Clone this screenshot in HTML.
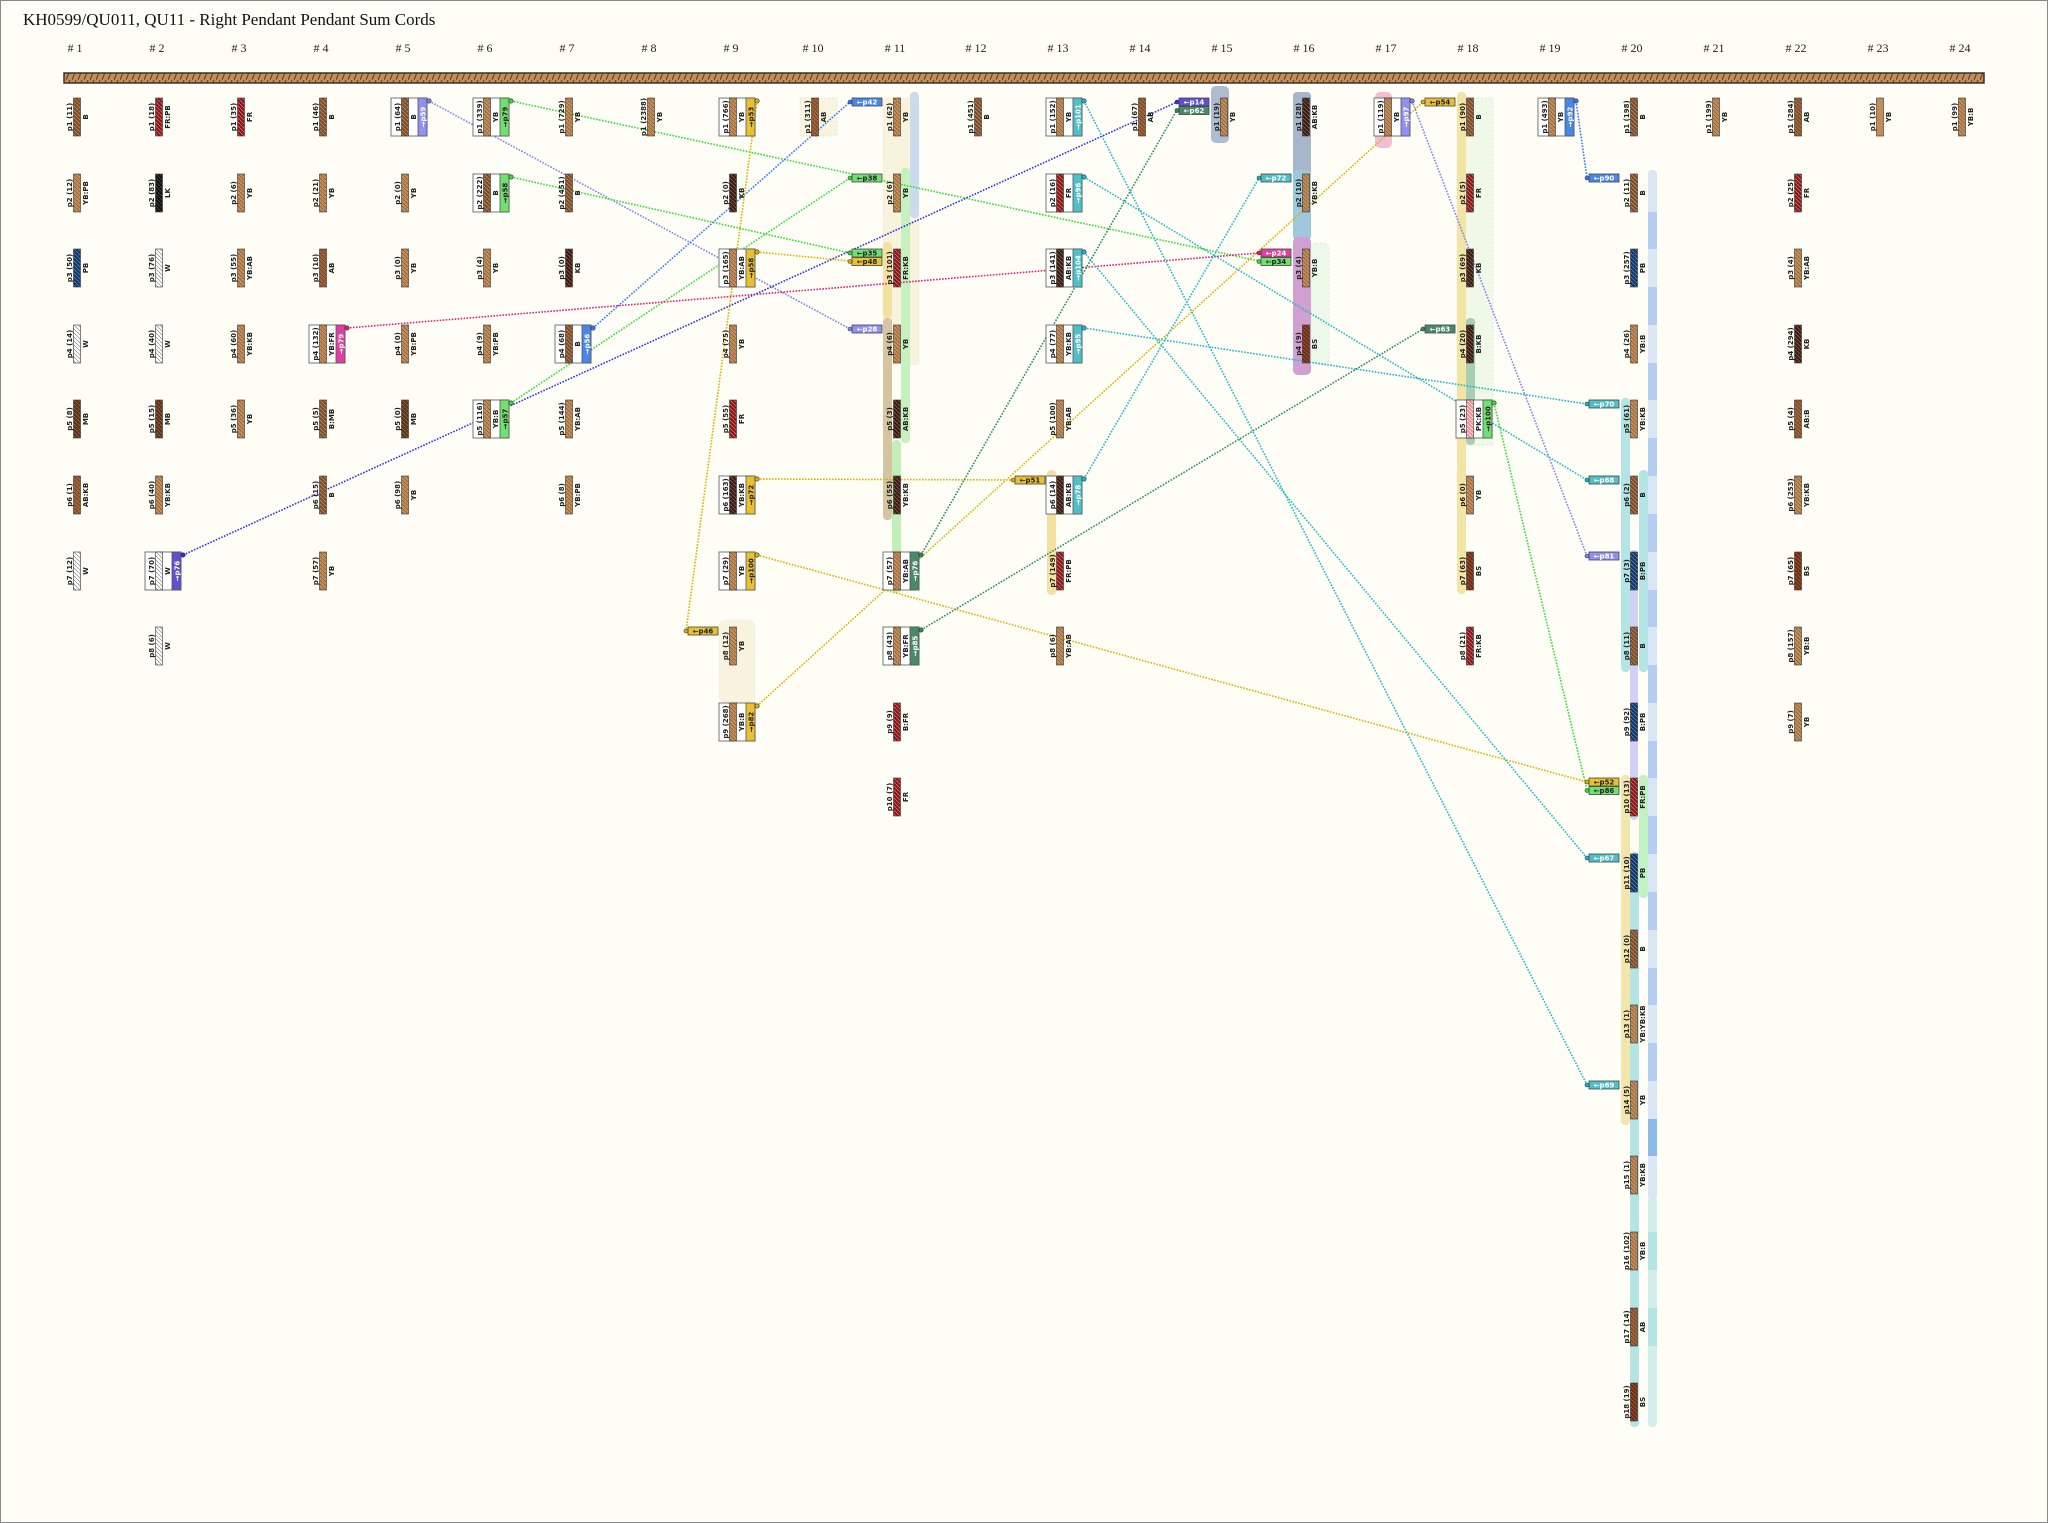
<!DOCTYPE html>
<html><head><meta charset="utf-8"><style>
html,body{margin:0;padding:0;background:#fefef6}
svg{display:block}
.a{font:bold 7px "DejaVu Sans",sans-serif;text-anchor:middle;fill:#222}
.s{font:bold 7px "DejaVu Sans",sans-serif;text-anchor:middle;fill:#fff}
.sk{font:bold 7px "DejaVu Sans",sans-serif;text-anchor:middle;fill:#222}
.t{font:bold 7px "DejaVu Sans",sans-serif;text-anchor:middle;fill:#fff}
.tk{font:bold 7px "DejaVu Sans",sans-serif;text-anchor:middle;fill:#222}
.h{font:12px "Liberation Serif",serif;text-anchor:middle;fill:#222}
.ln{fill:none;stroke-width:1.6;stroke-dasharray:1.6 1.4}
.tg{stroke:#444;stroke-width:.8}
</style></head><body>
<svg width="2048" height="1523" viewBox="0 0 2048 1523" xmlns="http://www.w3.org/2000/svg">
<defs>
<rect id="cr" x="-19" y="-3.5" width="38" height="7" stroke="#333" stroke-width=".6"/>
<pattern id="B" width="4" height="4" patternUnits="userSpaceOnUse"><rect width="4" height="4" fill="#7b4a26"/><path d="M-1,1l2,-2M0,4l4,-4M3,5l2,-2" stroke="#b88a66" stroke-width=".8"/></pattern>
<pattern id="YB" width="4" height="4" patternUnits="userSpaceOnUse"><rect width="4" height="4" fill="#c38d58"/><path d="M-1,1l2,-2M0,4l4,-4M3,5l2,-2" stroke="#7a5030" stroke-width=".6"/></pattern>
<pattern id="FR" width="4" height="4" patternUnits="userSpaceOnUse"><rect width="4" height="4" fill="#8a1414"/><path d="M-1,1l2,-2M0,4l4,-4M3,5l2,-2" stroke="#d08080" stroke-width=".7"/></pattern>
<pattern id="KB" width="4" height="4" patternUnits="userSpaceOnUse"><rect width="4" height="4" fill="#3a1a10"/><path d="M-1,1l2,-2M0,4l4,-4M3,5l2,-2" stroke="#8a6a5a" stroke-width=".7"/></pattern>
<pattern id="AB" width="4" height="4" patternUnits="userSpaceOnUse"><rect width="4" height="4" fill="#a0643a"/><path d="M-1,1l2,-2M0,4l4,-4M3,5l2,-2" stroke="#5a3018" stroke-width=".6"/></pattern>
<pattern id="PB" width="4" height="4" patternUnits="userSpaceOnUse"><rect width="4" height="4" fill="#0f3566"/><path d="M-1,1l2,-2M0,4l4,-4M3,5l2,-2" stroke="#6a8ab8" stroke-width=".7"/></pattern>
<pattern id="W" width="4" height="4" patternUnits="userSpaceOnUse"><rect width="4" height="4" fill="#fff"/><path d="M-1,1l2,-2M0,4l4,-4M3,5l2,-2" stroke="#777" stroke-width=".6"/></pattern>
<pattern id="LK" width="4" height="4" patternUnits="userSpaceOnUse"><rect width="4" height="4" fill="#111"/><path d="M-1,1l2,-2M0,4l4,-4M3,5l2,-2" stroke="#555" stroke-width=".6"/></pattern>
<pattern id="MB" width="4" height="4" patternUnits="userSpaceOnUse"><rect width="4" height="4" fill="#5a3018"/><path d="M-1,1l2,-2M0,4l4,-4M3,5l2,-2" stroke="#9a7050" stroke-width=".7"/></pattern>
<pattern id="BS" width="4" height="4" patternUnits="userSpaceOnUse"><rect width="4" height="4" fill="#6e2c12"/><path d="M-1,1l2,-2M0,4l4,-4M3,5l2,-2" stroke="#a86040" stroke-width=".7"/></pattern>
<pattern id="PK" width="4" height="4" patternUnits="userSpaceOnUse"><rect width="4" height="4" fill="#f09090"/><path d="M-1,1l2,-2M0,4l4,-4M3,5l2,-2" stroke="#fff" stroke-width=".7"/></pattern>
<pattern id="MAIN" width="6" height="10" patternUnits="userSpaceOnUse"><rect width="6" height="10" fill="#c38d58"/><path d="M0,10L4,0" stroke="#5a3a20" stroke-width="1"/></pattern>
</defs>
<rect x="0.5" y="0.5" width="2047" height="1522" fill="#fefef6" stroke="#888"/>
<text x="23" y="25" style="font:17px 'Liberation Serif',serif;fill:#111">KH0599/QU011, QU11 - Right Pendant Pendant Sum Cords</text>
<g class="h">
<text x="75" y="52"># 1</text><text x="157" y="52"># 2</text><text x="239" y="52"># 3</text><text x="321" y="52"># 4</text><text x="403" y="52"># 5</text><text x="485" y="52"># 6</text><text x="567" y="52"># 7</text><text x="649" y="52"># 8</text><text x="731" y="52"># 9</text><text x="813" y="52"># 10</text><text x="895" y="52"># 11</text><text x="976" y="52"># 12</text><text x="1058" y="52"># 13</text><text x="1140" y="52"># 14</text><text x="1222" y="52"># 15</text><text x="1304" y="52"># 16</text><text x="1386" y="52"># 17</text><text x="1468" y="52"># 18</text><text x="1550" y="52"># 19</text><text x="1632" y="52"># 20</text><text x="1714" y="52"># 21</text><text x="1796" y="52"># 22</text><text x="1878" y="52"># 23</text><text x="1960" y="52"># 24</text>
</g>
<rect x="64" y="73" width="1920" height="10" fill="url(#MAIN)" stroke="#333" stroke-width="1.5"/>

<!-- bands -->
<g opacity=".85">
<rect x="800" y="98" width="37" height="38" fill="#f8f3dc" stroke="#ccc" stroke-dasharray="2 2" stroke-width=".5"/>
<rect x="883" y="98" width="36" height="267" rx="4" fill="#f8f2d8" stroke="#ddd" stroke-dasharray="2 2" stroke-width=".5"/>
<rect x="910" y="92" width="9" height="126" rx="4" fill="#c4d4ec"/>
<rect x="901" y="168" width="9" height="275" rx="4" fill="#bdeeb5"/>
<rect x="883" y="242" width="9" height="76" rx="4" fill="#f0dc90"/>
<rect x="883" y="318" width="9" height="202" rx="4" fill="#cdbb90"/>
<rect x="892" y="440" width="9" height="153" rx="4" fill="#b8ecb0"/>
<rect x="719" y="620" width="36" height="82" rx="6" fill="#f8f2dc" stroke="#ddd" stroke-dasharray="2 2" stroke-width=".5"/>
<rect x="1047" y="470" width="9" height="125" rx="4" fill="#f0dc90"/>
<rect x="1211" y="86" width="18" height="57" rx="5" fill="#9fb0c8"/>
<rect x="1293" y="92" width="18" height="140" rx="4" fill="#98aac4"/>
<rect x="1293" y="170" width="18" height="70" rx="4" fill="#8ec0d8"/>
<rect x="1293" y="237" width="18" height="138" rx="5" fill="#c890cc"/>
<rect x="1311" y="243" width="18" height="122" rx="5" fill="#eaf8e6" stroke="#ccc" stroke-dasharray="2 2" stroke-width=".5"/>
<rect x="1375" y="92" width="17" height="56" rx="5" fill="#f0b4d0"/>
<rect x="1457" y="98" width="36" height="347" fill="#eef8e6" stroke="#ccc" stroke-dasharray="2 2" stroke-width=".5"/>
<rect x="1457" y="92" width="9" height="502" rx="4" fill="#f0e098"/>
<rect x="1466" y="318" width="9" height="127" rx="4" fill="#98c8a8"/>
<rect x="1648" y="170" width="9" height="1030" rx="4" fill="#d6e2f5"/>
<rect x="1648" y="1197" width="9" height="230" rx="4" fill="#ccece8"/>
<rect x="1648" y="212" width="9" height="37" fill="#a9c5f0"/><rect x="1648" y="287" width="9" height="38" fill="#a9c5f0"/><rect x="1648" y="363" width="9" height="37" fill="#a9c5f0"/><rect x="1648" y="438" width="9" height="38" fill="#a9c5f0"/><rect x="1648" y="514" width="9" height="38" fill="#a9c5f0"/><rect x="1648" y="590" width="9" height="37" fill="#a9c5f0"/><rect x="1648" y="665" width="9" height="38" fill="#a9c5f0"/><rect x="1648" y="741" width="9" height="37" fill="#a9c5f0"/><rect x="1648" y="816" width="9" height="38" fill="#a9c5f0"/><rect x="1648" y="892" width="9" height="38" fill="#a9c5f0"/><rect x="1648" y="968" width="9" height="37" fill="#a9c5f0"/><rect x="1648" y="1043" width="9" height="38" fill="#a9c5f0"/><rect x="1648" y="1119" width="9" height="37" fill="#7aaee6"/>
<rect x="1648" y="1232" width="9" height="38" fill="#a8e0e0"/><rect x="1648" y="1308" width="9" height="38" fill="#a8e0e0"/>
<rect x="1621" y="398" width="9" height="274" rx="4" fill="#a8e0e0"/>
<rect x="1621" y="775" width="9" height="350" rx="4" fill="#f2e2a0"/>
<rect x="1630" y="550" width="8" height="270" rx="4" fill="#ccc8f5"/>
<rect x="1630" y="852" width="9" height="575" rx="4" fill="#a8e0e0"/>
<rect x="1639" y="470" width="9" height="202" rx="4" fill="#a8e0e0"/>
<rect x="1639" y="775" width="9" height="123" rx="4" fill="#b8f0b8"/>
</g>

<!-- lines -->
<g class="ln">
<path d="M429,101L850,329" stroke="#8080f0"/>
<path d="M511,101L1259,261" stroke="#33dd33"/>
<path d="M511,177L850,253" stroke="#33dd33"/>
<path d="M511,403L850,178" stroke="#33dd33"/>
<path d="M347,328L1259,253" stroke="#e0207a"/>
<path d="M593,328L850,102" stroke="#3377ff"/>
<path d="M183,555L1177,102" stroke="#3030e0"/>
<path d="M757,101L686,631" stroke="#e0b000"/>
<path d="M757,252L850,261" stroke="#e0b000"/>
<path d="M757,479L1013,480" stroke="#e0b000"/>
<path d="M757,555L1587,782" stroke="#e0b000"/>
<path d="M757,706L1423,102" stroke="#e0b000"/>
<path d="M921,555L1177,110" stroke="#2a8a60"/>
<path d="M921,630L1423,329" stroke="#2a8a60"/>
<path d="M1084,101L1587,1085" stroke="#20b8c8"/>
<path d="M1084,177L1587,480" stroke="#20b8c8"/>
<path d="M1084,252L1587,858" stroke="#20b8c8"/>
<path d="M1084,328L1587,404" stroke="#20b8c8"/>
<path d="M1084,479L1259,178" stroke="#20b8c8"/>
<path d="M1576,101L1587,178" stroke="#3377ff"/>
<path d="M1412,101L1587,556" stroke="#8080f0"/>
<path d="M1494,403L1587,790" stroke="#33dd33"/>
</g>

<!-- boxes (drawn under cords) -->
<g stroke="#555" stroke-width=".8">
<g transform="translate(159,571) rotate(-90)"><rect x="-19" y="-14" width="38" height="36" fill="#fff"/><rect x="-19" y="13" width="38" height="9" fill="#6050d0"/></g>
<g transform="translate(323,344) rotate(-90)"><rect x="-19" y="-14" width="38" height="36" fill="#fff"/><rect x="-19" y="13" width="38" height="9" fill="#e040a0"/></g>
<g transform="translate(405,117) rotate(-90)"><rect x="-19" y="-14" width="38" height="36" fill="#fff"/><rect x="-19" y="13" width="38" height="9" fill="#9090f0"/></g>
<g transform="translate(487,117) rotate(-90)"><rect x="-19" y="-14" width="38" height="36" fill="#fff"/><rect x="-19" y="13" width="38" height="9" fill="#70e070"/></g>
<g transform="translate(487,193) rotate(-90)"><rect x="-19" y="-14" width="38" height="36" fill="#fff"/><rect x="-19" y="13" width="38" height="9" fill="#70e070"/></g>
<g transform="translate(487,419) rotate(-90)"><rect x="-19" y="-14" width="38" height="36" fill="#fff"/><rect x="-19" y="13" width="38" height="9" fill="#70e070"/></g>
<g transform="translate(569,344) rotate(-90)"><rect x="-19" y="-14" width="38" height="36" fill="#fff"/><rect x="-19" y="13" width="38" height="9" fill="#4a86e8"/></g>
<g transform="translate(733,117) rotate(-90)"><rect x="-19" y="-14" width="38" height="36" fill="#fff"/><rect x="-19" y="13" width="38" height="9" fill="#e8c030"/></g>
<g transform="translate(733,268) rotate(-90)"><rect x="-19" y="-14" width="38" height="36" fill="#fff"/><rect x="-19" y="13" width="38" height="9" fill="#e8c030"/></g>
<g transform="translate(733,495) rotate(-90)"><rect x="-19" y="-14" width="38" height="36" fill="#fff"/><rect x="-19" y="13" width="38" height="9" fill="#e8c030"/></g>
<g transform="translate(733,571) rotate(-90)"><rect x="-19" y="-14" width="38" height="36" fill="#fff"/><rect x="-19" y="13" width="38" height="9" fill="#e8c030"/></g>
<g transform="translate(733,722) rotate(-90)"><rect x="-19" y="-14" width="38" height="36" fill="#fff"/><rect x="-19" y="13" width="38" height="9" fill="#e8c030"/></g>
<g transform="translate(897,571) rotate(-90)"><rect x="-19" y="-14" width="38" height="36" fill="#fff"/><rect x="-19" y="13" width="38" height="9" fill="#4a8a6a"/></g>
<g transform="translate(897,646) rotate(-90)"><rect x="-19" y="-14" width="38" height="36" fill="#fff"/><rect x="-19" y="13" width="38" height="9" fill="#4a8a6a"/></g>
<g transform="translate(1060,117) rotate(-90)"><rect x="-19" y="-14" width="38" height="36" fill="#fff"/><rect x="-19" y="13" width="38" height="9" fill="#50c0c8"/></g>
<g transform="translate(1060,193) rotate(-90)"><rect x="-19" y="-14" width="38" height="36" fill="#fff"/><rect x="-19" y="13" width="38" height="9" fill="#50c0c8"/></g>
<g transform="translate(1060,268) rotate(-90)"><rect x="-19" y="-14" width="38" height="36" fill="#fff"/><rect x="-19" y="13" width="38" height="9" fill="#50c0c8"/></g>
<g transform="translate(1060,344) rotate(-90)"><rect x="-19" y="-14" width="38" height="36" fill="#fff"/><rect x="-19" y="13" width="38" height="9" fill="#50c0c8"/></g>
<g transform="translate(1060,495) rotate(-90)"><rect x="-19" y="-14" width="38" height="36" fill="#fff"/><rect x="-19" y="13" width="38" height="9" fill="#50c0c8"/></g>
<g transform="translate(1388,117) rotate(-90)"><rect x="-19" y="-14" width="38" height="36" fill="#fff"/><rect x="-19" y="13" width="38" height="9" fill="#9090f0"/></g>
<g transform="translate(1470,419) rotate(-90)"><rect x="-19" y="-14" width="38" height="36" fill="#fff"/><rect x="-19" y="13" width="38" height="9" fill="#70e070"/></g>
<g transform="translate(1552,117) rotate(-90)"><rect x="-19" y="-14" width="38" height="36" fill="#fff"/><rect x="-19" y="13" width="38" height="9" fill="#4a86e8"/></g>
</g>
<g>
<g transform="translate(159,571) rotate(-90)"><text class="s" y="20.5">→p76</text></g>
<g transform="translate(323,344) rotate(-90)"><text class="s" y="20.5">→p79</text></g>
<g transform="translate(405,117) rotate(-90)"><text class="s" y="20.5">→p59</text></g>
<g transform="translate(487,117) rotate(-90)"><text class="sk" y="20.5">→p79</text></g>
<g transform="translate(487,193) rotate(-90)"><text class="sk" y="20.5">→p58</text></g>
<g transform="translate(487,419) rotate(-90)"><text class="sk" y="20.5">→p57</text></g>
<g transform="translate(569,344) rotate(-90)"><text class="s" y="20.5">→p56</text></g>
<g transform="translate(733,117) rotate(-90)"><text class="sk" y="20.5">→p53</text></g>
<g transform="translate(733,268) rotate(-90)"><text class="sk" y="20.5">→p58</text></g>
<g transform="translate(733,495) rotate(-90)"><text class="sk" y="20.5">→p72</text></g>
<g transform="translate(733,571) rotate(-90)"><text class="sk" y="20.5">→p100</text></g>
<g transform="translate(733,722) rotate(-90)"><text class="sk" y="20.5">→p82</text></g>
<g transform="translate(897,571) rotate(-90)"><text class="s" y="20.5">→p76</text></g>
<g transform="translate(897,646) rotate(-90)"><text class="s" y="20.5">→p85</text></g>
<g transform="translate(1060,117) rotate(-90)"><text class="s" y="20.5">→p101</text></g>
<g transform="translate(1060,193) rotate(-90)"><text class="s" y="20.5">→p96</text></g>
<g transform="translate(1060,268) rotate(-90)"><text class="s" y="20.5">→p104</text></g>
<g transform="translate(1060,344) rotate(-90)"><text class="s" y="20.5">→p95</text></g>
<g transform="translate(1060,495) rotate(-90)"><text class="s" y="20.5">→p78</text></g>
<g transform="translate(1388,117) rotate(-90)"><text class="s" y="20.5">→p97</text></g>
<g transform="translate(1470,419) rotate(-90)"><text class="sk" y="20.5">→p100</text></g>
<g transform="translate(1552,117) rotate(-90)"><text class="s" y="20.5">→p92</text></g>
</g>

<!-- cords -->
<g>
<!-- col1 -->
<g transform="translate(77,117) rotate(-90)"><use href="#cr" fill="url(#B)"/><text class="a" y="-5">p1 (11)</text><text class="a" y="11">B</text></g>
<g transform="translate(77,193) rotate(-90)"><use href="#cr" fill="url(#YB)"/><text class="a" y="-5">p2 (12)</text><text class="a" y="11">YB:PB</text></g>
<g transform="translate(77,268) rotate(-90)"><use href="#cr" fill="url(#PB)"/><text class="a" y="-5">p3 (50)</text><text class="a" y="11">PB</text></g>
<g transform="translate(77,344) rotate(-90)"><use href="#cr" fill="url(#W)"/><text class="a" y="-5">p4 (14)</text><text class="a" y="11">W</text></g>
<g transform="translate(77,419) rotate(-90)"><use href="#cr" fill="url(#MB)"/><text class="a" y="-5">p5 (8)</text><text class="a" y="11">MB</text></g>
<g transform="translate(77,495) rotate(-90)"><use href="#cr" fill="url(#AB)"/><text class="a" y="-5">p6 (1)</text><text class="a" y="11">AB:KB</text></g>
<g transform="translate(77,571) rotate(-90)"><use href="#cr" fill="url(#W)"/><text class="a" y="-5">p7 (12)</text><text class="a" y="11">W</text></g>
<!-- col2 -->
<g transform="translate(159,117) rotate(-90)"><use href="#cr" fill="url(#FR)"/><text class="a" y="-5">p1 (18)</text><text class="a" y="11">FR:PB</text></g>
<g transform="translate(159,193) rotate(-90)"><use href="#cr" fill="url(#LK)"/><text class="a" y="-5">p2 (83)</text><text class="a" y="11">LK</text></g>
<g transform="translate(159,268) rotate(-90)"><use href="#cr" fill="url(#W)"/><text class="a" y="-5">p3 (76)</text><text class="a" y="11">W</text></g>
<g transform="translate(159,344) rotate(-90)"><use href="#cr" fill="url(#W)"/><text class="a" y="-5">p4 (40)</text><text class="a" y="11">W</text></g>
<g transform="translate(159,419) rotate(-90)"><use href="#cr" fill="url(#MB)"/><text class="a" y="-5">p5 (15)</text><text class="a" y="11">MB</text></g>
<g transform="translate(159,495) rotate(-90)"><use href="#cr" fill="url(#YB)"/><text class="a" y="-5">p6 (40)</text><text class="a" y="11">YB:KB</text></g>
<g transform="translate(159,571) rotate(-90)"><use href="#cr" fill="url(#W)"/><text class="a" y="-5">p7 (70)</text><text class="a" y="11">W</text></g>
<g transform="translate(159,646) rotate(-90)"><use href="#cr" fill="url(#W)"/><text class="a" y="-5">p8 (6)</text><text class="a" y="11">W</text></g>
<!-- col3 -->
<g transform="translate(241,117) rotate(-90)"><use href="#cr" fill="url(#FR)"/><text class="a" y="-5">p1 (35)</text><text class="a" y="11">FR</text></g>
<g transform="translate(241,193) rotate(-90)"><use href="#cr" fill="url(#YB)"/><text class="a" y="-5">p2 (6)</text><text class="a" y="11">YB</text></g>
<g transform="translate(241,268) rotate(-90)"><use href="#cr" fill="url(#YB)"/><text class="a" y="-5">p3 (55)</text><text class="a" y="11">YB:AB</text></g>
<g transform="translate(241,344) rotate(-90)"><use href="#cr" fill="url(#YB)"/><text class="a" y="-5">p4 (60)</text><text class="a" y="11">YB:KB</text></g>
<g transform="translate(241,419) rotate(-90)"><use href="#cr" fill="url(#YB)"/><text class="a" y="-5">p5 (36)</text><text class="a" y="11">YB</text></g>
<!-- col4 -->
<g transform="translate(323,117) rotate(-90)"><use href="#cr" fill="url(#B)"/><text class="a" y="-5">p1 (46)</text><text class="a" y="11">B</text></g>
<g transform="translate(323,193) rotate(-90)"><use href="#cr" fill="url(#YB)"/><text class="a" y="-5">p2 (21)</text><text class="a" y="11">YB</text></g>
<g transform="translate(323,268) rotate(-90)"><use href="#cr" fill="url(#AB)"/><text class="a" y="-5">p3 (10)</text><text class="a" y="11">AB</text></g>
<g transform="translate(323,344) rotate(-90)"><use href="#cr" fill="url(#YB)"/><text class="a" y="-5">p4 (132)</text><text class="a" y="11">YB:FR</text></g>
<g transform="translate(323,419) rotate(-90)"><use href="#cr" fill="url(#B)"/><text class="a" y="-5">p5 (5)</text><text class="a" y="11">B:MB</text></g>
<g transform="translate(323,495) rotate(-90)"><use href="#cr" fill="url(#B)"/><text class="a" y="-5">p6 (15)</text><text class="a" y="11">B</text></g>
<g transform="translate(323,571) rotate(-90)"><use href="#cr" fill="url(#YB)"/><text class="a" y="-5">p7 (57)</text><text class="a" y="11">YB</text></g>
<!-- col5 -->
<g transform="translate(405,117) rotate(-90)"><use href="#cr" fill="url(#B)"/><text class="a" y="-5">p1 (64)</text><text class="a" y="11">B</text></g>
<g transform="translate(405,193) rotate(-90)"><use href="#cr" fill="url(#YB)"/><text class="a" y="-5">p2 (0)</text><text class="a" y="11">YB</text></g>
<g transform="translate(405,268) rotate(-90)"><use href="#cr" fill="url(#YB)"/><text class="a" y="-5">p3 (0)</text><text class="a" y="11">YB</text></g>
<g transform="translate(405,344) rotate(-90)"><use href="#cr" fill="url(#YB)"/><text class="a" y="-5">p4 (0)</text><text class="a" y="11">YB:PB</text></g>
<g transform="translate(405,419) rotate(-90)"><use href="#cr" fill="url(#MB)"/><text class="a" y="-5">p5 (0)</text><text class="a" y="11">MB</text></g>
<g transform="translate(405,495) rotate(-90)"><use href="#cr" fill="url(#YB)"/><text class="a" y="-5">p6 (98)</text><text class="a" y="11">YB</text></g>
<!-- col6 -->
<g transform="translate(487,117) rotate(-90)"><use href="#cr" fill="url(#YB)"/><text class="a" y="-5">p1 (339)</text><text class="a" y="11">YB</text></g>
<g transform="translate(487,193) rotate(-90)"><use href="#cr" fill="url(#B)"/><text class="a" y="-5">p2 (222)</text><text class="a" y="11">B</text></g>
<g transform="translate(487,268) rotate(-90)"><use href="#cr" fill="url(#YB)"/><text class="a" y="-5">p3 (4)</text><text class="a" y="11">YB</text></g>
<g transform="translate(487,344) rotate(-90)"><use href="#cr" fill="url(#YB)"/><text class="a" y="-5">p4 (9)</text><text class="a" y="11">YB:PB</text></g>
<g transform="translate(487,419) rotate(-90)"><use href="#cr" fill="url(#YB)"/><text class="a" y="-5">p5 (116)</text><text class="a" y="11">YB:B</text></g>
<!-- col7 -->
<g transform="translate(569,117) rotate(-90)"><use href="#cr" fill="url(#YB)"/><text class="a" y="-5">p1 (729)</text><text class="a" y="11">YB</text></g>
<g transform="translate(569,193) rotate(-90)"><use href="#cr" fill="url(#B)"/><text class="a" y="-5">p2 (451)</text><text class="a" y="11">B</text></g>
<g transform="translate(569,268) rotate(-90)"><use href="#cr" fill="url(#KB)"/><text class="a" y="-5">p3 (0)</text><text class="a" y="11">KB</text></g>
<g transform="translate(569,344) rotate(-90)"><use href="#cr" fill="url(#B)"/><text class="a" y="-5">p4 (68)</text><text class="a" y="11">B</text></g>
<g transform="translate(569,419) rotate(-90)"><use href="#cr" fill="url(#YB)"/><text class="a" y="-5">p5 (144)</text><text class="a" y="11">YB:AB</text></g>
<g transform="translate(569,495) rotate(-90)"><use href="#cr" fill="url(#YB)"/><text class="a" y="-5">p6 (8)</text><text class="a" y="11">YB:PB</text></g>
<!-- col8 -->
<g transform="translate(651,117) rotate(-90)"><use href="#cr" fill="url(#YB)"/><text class="a" y="-5">p1 (2388)</text><text class="a" y="11">YB</text></g>
<!-- col9 -->
<g transform="translate(733,117) rotate(-90)"><use href="#cr" fill="url(#YB)"/><text class="a" y="-5">p1 (766)</text><text class="a" y="11">YB</text></g>
<g transform="translate(733,193) rotate(-90)"><use href="#cr" fill="url(#KB)"/><text class="a" y="-5">p2 (0)</text><text class="a" y="11">KB</text></g>
<g transform="translate(733,268) rotate(-90)"><use href="#cr" fill="url(#YB)"/><text class="a" y="-5">p3 (165)</text><text class="a" y="11">YB:AB</text></g>
<g transform="translate(733,344) rotate(-90)"><use href="#cr" fill="url(#YB)"/><text class="a" y="-5">p4 (75)</text><text class="a" y="11">YB</text></g>
<g transform="translate(733,419) rotate(-90)"><use href="#cr" fill="url(#FR)"/><text class="a" y="-5">p5 (55)</text><text class="a" y="11">FR</text></g>
<g transform="translate(733,495) rotate(-90)"><use href="#cr" fill="url(#KB)"/><text class="a" y="-5">p6 (163)</text><text class="a" y="11">YB:KB</text></g>
<g transform="translate(733,571) rotate(-90)"><use href="#cr" fill="url(#YB)"/><text class="a" y="-5">p7 (29)</text><text class="a" y="11">YB</text></g>
<g transform="translate(733,646) rotate(-90)"><use href="#cr" fill="url(#YB)"/><text class="a" y="-5">p8 (12)</text><text class="a" y="11">YB</text></g>
<g transform="translate(733,722) rotate(-90)"><use href="#cr" fill="url(#YB)"/><text class="a" y="-5">p9 (268)</text><text class="a" y="11">YB:B</text></g>
<!-- col10 -->
<g transform="translate(815,117) rotate(-90)"><use href="#cr" fill="url(#AB)"/><text class="a" y="-5">p1 (311)</text><text class="a" y="11">AB</text></g>
<!-- col11 -->
<g transform="translate(897,117) rotate(-90)"><use href="#cr" fill="url(#YB)"/><text class="a" y="-5">p1 (62)</text><text class="a" y="11">YB</text></g>
<g transform="translate(897,193) rotate(-90)"><use href="#cr" fill="url(#YB)"/><text class="a" y="-5">p2 (6)</text><text class="a" y="11">YB</text></g>
<g transform="translate(897,268) rotate(-90)"><use href="#cr" fill="url(#FR)"/><text class="a" y="-5">p3 (101)</text><text class="a" y="11">FR:KB</text></g>
<g transform="translate(897,344) rotate(-90)"><use href="#cr" fill="url(#YB)"/><text class="a" y="-5">p4 (6)</text><text class="a" y="11">YB</text></g>
<g transform="translate(897,419) rotate(-90)"><use href="#cr" fill="url(#KB)"/><text class="a" y="-5">p5 (3)</text><text class="a" y="11">AB:KB</text></g>
<g transform="translate(897,495) rotate(-90)"><use href="#cr" fill="url(#KB)"/><text class="a" y="-5">p6 (55)</text><text class="a" y="11">YB:KB</text></g>
<g transform="translate(897,571) rotate(-90)"><use href="#cr" fill="url(#YB)"/><text class="a" y="-5">p7 (57)</text><text class="a" y="11">YB:AB</text></g>
<g transform="translate(897,646) rotate(-90)"><use href="#cr" fill="url(#YB)"/><text class="a" y="-5">p8 (43)</text><text class="a" y="11">YB:FR</text></g>
<g transform="translate(897,722) rotate(-90)"><use href="#cr" fill="url(#FR)"/><text class="a" y="-5">p9 (9)</text><text class="a" y="11">B:FR</text></g>
<g transform="translate(897,797) rotate(-90)"><use href="#cr" fill="url(#FR)"/><text class="a" y="-5">p10 (7)</text><text class="a" y="11">FR</text></g>
<!-- col12 -->
<g transform="translate(978,117) rotate(-90)"><use href="#cr" fill="url(#B)"/><text class="a" y="-5">p1 (451)</text><text class="a" y="11">B</text></g>
<!-- col13 -->
<g transform="translate(1060,117) rotate(-90)"><use href="#cr" fill="url(#YB)"/><text class="a" y="-5">p1 (152)</text><text class="a" y="11">YB</text></g>
<g transform="translate(1060,193) rotate(-90)"><use href="#cr" fill="url(#FR)"/><text class="a" y="-5">p2 (16)</text><text class="a" y="11">FR</text></g>
<g transform="translate(1060,268) rotate(-90)"><use href="#cr" fill="url(#KB)"/><text class="a" y="-5">p3 (141)</text><text class="a" y="11">AB:KB</text></g>
<g transform="translate(1060,344) rotate(-90)"><use href="#cr" fill="url(#YB)"/><text class="a" y="-5">p4 (77)</text><text class="a" y="11">YB:KB</text></g>
<g transform="translate(1060,419) rotate(-90)"><use href="#cr" fill="url(#YB)"/><text class="a" y="-5">p5 (100)</text><text class="a" y="11">YB:AB</text></g>
<g transform="translate(1060,495) rotate(-90)"><use href="#cr" fill="url(#KB)"/><text class="a" y="-5">p6 (14)</text><text class="a" y="11">AB:KB</text></g>
<g transform="translate(1060,571) rotate(-90)"><use href="#cr" fill="url(#FR)"/><text class="a" y="-5">p7 (149)</text><text class="a" y="11">FR:PB</text></g>
<g transform="translate(1060,646) rotate(-90)"><use href="#cr" fill="url(#YB)"/><text class="a" y="-5">p8 (6)</text><text class="a" y="11">YB:AB</text></g>
<!-- col14-15 -->
<g transform="translate(1142,117) rotate(-90)"><use href="#cr" fill="url(#AB)"/><text class="a" y="-5">p1 (67)</text><text class="a" y="11">AB</text></g>
<g transform="translate(1224,117) rotate(-90)"><use href="#cr" fill="url(#YB)"/><text class="a" y="-5">p1 (19)</text><text class="a" y="11">YB</text></g>
<!-- col16 -->
<g transform="translate(1306,117) rotate(-90)"><use href="#cr" fill="url(#KB)"/><text class="a" y="-5">p1 (28)</text><text class="a" y="11">AB:KB</text></g>
<g transform="translate(1306,193) rotate(-90)"><use href="#cr" fill="url(#YB)"/><text class="a" y="-5">p2 (10)</text><text class="a" y="11">YB:KB</text></g>
<g transform="translate(1306,268) rotate(-90)"><use href="#cr" fill="url(#YB)"/><text class="a" y="-5">p3 (4)</text><text class="a" y="11">YB:B</text></g>
<g transform="translate(1306,344) rotate(-90)"><use href="#cr" fill="url(#BS)"/><text class="a" y="-5">p4 (9)</text><text class="a" y="11">BS</text></g>
<!-- col17 -->
<g transform="translate(1388,117) rotate(-90)"><use href="#cr" fill="url(#YB)"/><text class="a" y="-5">p1 (119)</text><text class="a" y="11">YB</text></g>
<!-- col18 -->
<g transform="translate(1470,117) rotate(-90)"><use href="#cr" fill="url(#B)"/><text class="a" y="-5">p1 (90)</text><text class="a" y="11">B</text></g>
<g transform="translate(1470,193) rotate(-90)"><use href="#cr" fill="url(#FR)"/><text class="a" y="-5">p2 (5)</text><text class="a" y="11">FR</text></g>
<g transform="translate(1470,268) rotate(-90)"><use href="#cr" fill="url(#KB)"/><text class="a" y="-5">p3 (69)</text><text class="a" y="11">KB</text></g>
<g transform="translate(1470,344) rotate(-90)"><use href="#cr" fill="url(#KB)"/><text class="a" y="-5">p4 (20)</text><text class="a" y="11">B:KB</text></g>
<g transform="translate(1470,419) rotate(-90)"><use href="#cr" fill="url(#PK)"/><text class="a" y="-5">p5 (23)</text><text class="a" y="11">PK:KB</text></g>
<g transform="translate(1470,495) rotate(-90)"><use href="#cr" fill="url(#YB)"/><text class="a" y="-5">p6 (0)</text><text class="a" y="11">YB</text></g>
<g transform="translate(1470,571) rotate(-90)"><use href="#cr" fill="url(#BS)"/><text class="a" y="-5">p7 (63)</text><text class="a" y="11">BS</text></g>
<g transform="translate(1470,646) rotate(-90)"><use href="#cr" fill="url(#FR)"/><text class="a" y="-5">p8 (21)</text><text class="a" y="11">FR:KB</text></g>
<!-- col19 -->
<g transform="translate(1552,117) rotate(-90)"><use href="#cr" fill="url(#YB)"/><text class="a" y="-5">p1 (493)</text><text class="a" y="11">YB</text></g>
<!-- col20 -->
<g transform="translate(1634,117) rotate(-90)"><use href="#cr" fill="url(#B)"/><text class="a" y="-5">p1 (198)</text><text class="a" y="11">B</text></g>
<g transform="translate(1634,193) rotate(-90)"><use href="#cr" fill="url(#B)"/><text class="a" y="-5">p2 (11)</text><text class="a" y="11">B</text></g>
<g transform="translate(1634,268) rotate(-90)"><use href="#cr" fill="url(#PB)"/><text class="a" y="-5">p3 (257)</text><text class="a" y="11">PB</text></g>
<g transform="translate(1634,344) rotate(-90)"><use href="#cr" fill="url(#YB)"/><text class="a" y="-5">p4 (26)</text><text class="a" y="11">YB:B</text></g>
<g transform="translate(1634,419) rotate(-90)"><use href="#cr" fill="url(#YB)"/><text class="a" y="-5">p5 (61)</text><text class="a" y="11">YB:KB</text></g>
<g transform="translate(1634,495) rotate(-90)"><use href="#cr" fill="url(#B)"/><text class="a" y="-5">p6 (2)</text><text class="a" y="11">B</text></g>
<g transform="translate(1634,571) rotate(-90)"><use href="#cr" fill="url(#PB)"/><text class="a" y="-5">p7 (3)</text><text class="a" y="11">B:PB</text></g>
<g transform="translate(1634,646) rotate(-90)"><use href="#cr" fill="url(#B)"/><text class="a" y="-5">p8 (11)</text><text class="a" y="11">B</text></g>
<g transform="translate(1634,722) rotate(-90)"><use href="#cr" fill="url(#PB)"/><text class="a" y="-5">p9 (92)</text><text class="a" y="11">B:PB</text></g>
<g transform="translate(1634,797) rotate(-90)"><use href="#cr" fill="url(#FR)"/><text class="a" y="-5">p10 (13)</text><text class="a" y="11">FR:PB</text></g>
<g transform="translate(1634,873) rotate(-90)"><use href="#cr" fill="url(#PB)"/><text class="a" y="-5">p11 (10)</text><text class="a" y="11">PB</text></g>
<g transform="translate(1634,949) rotate(-90)"><use href="#cr" fill="url(#B)"/><text class="a" y="-5">p12 (0)</text><text class="a" y="11">B</text></g>
<g transform="translate(1634,1024) rotate(-90)"><use href="#cr" fill="url(#YB)"/><text class="a" y="-5">p13 (1)</text><text class="a" y="11">YB:YB:KB</text></g>
<g transform="translate(1634,1100) rotate(-90)"><use href="#cr" fill="url(#YB)"/><text class="a" y="-5">p14 (5)</text><text class="a" y="11">YB</text></g>
<g transform="translate(1634,1175) rotate(-90)"><use href="#cr" fill="url(#YB)"/><text class="a" y="-5">p15 (1)</text><text class="a" y="11">YB:KB</text></g>
<g transform="translate(1634,1251) rotate(-90)"><use href="#cr" fill="url(#YB)"/><text class="a" y="-5">p16 (102)</text><text class="a" y="11">YB:B</text></g>
<g transform="translate(1634,1327) rotate(-90)"><use href="#cr" fill="url(#AB)"/><text class="a" y="-5">p17 (14)</text><text class="a" y="11">AB</text></g>
<g transform="translate(1634,1402) rotate(-90)"><use href="#cr" fill="url(#BS)"/><text class="a" y="-5">p18 (19)</text><text class="a" y="11">BS</text></g>
<!-- col21 -->
<g transform="translate(1716,117) rotate(-90)"><use href="#cr" fill="url(#YB)"/><text class="a" y="-5">p1 (199)</text><text class="a" y="11">YB</text></g>
<!-- col22 -->
<g transform="translate(1798,117) rotate(-90)"><use href="#cr" fill="url(#AB)"/><text class="a" y="-5">p1 (284)</text><text class="a" y="11">AB</text></g>
<g transform="translate(1798,193) rotate(-90)"><use href="#cr" fill="url(#FR)"/><text class="a" y="-5">p2 (25)</text><text class="a" y="11">FR</text></g>
<g transform="translate(1798,268) rotate(-90)"><use href="#cr" fill="url(#YB)"/><text class="a" y="-5">p3 (4)</text><text class="a" y="11">YB:AB</text></g>
<g transform="translate(1798,344) rotate(-90)"><use href="#cr" fill="url(#KB)"/><text class="a" y="-5">p4 (294)</text><text class="a" y="11">KB</text></g>
<g transform="translate(1798,419) rotate(-90)"><use href="#cr" fill="url(#AB)"/><text class="a" y="-5">p5 (4)</text><text class="a" y="11">AB:B</text></g>
<g transform="translate(1798,495) rotate(-90)"><use href="#cr" fill="url(#YB)"/><text class="a" y="-5">p6 (253)</text><text class="a" y="11">YB:KB</text></g>
<g transform="translate(1798,571) rotate(-90)"><use href="#cr" fill="url(#BS)"/><text class="a" y="-5">p7 (65)</text><text class="a" y="11">BS</text></g>
<g transform="translate(1798,646) rotate(-90)"><use href="#cr" fill="url(#YB)"/><text class="a" y="-5">p8 (157)</text><text class="a" y="11">YB:B</text></g>
<g transform="translate(1798,722) rotate(-90)"><use href="#cr" fill="url(#YB)"/><text class="a" y="-5">p9 (7)</text><text class="a" y="11">YB</text></g>
<!-- col23-24 -->
<g transform="translate(1880,117) rotate(-90)"><use href="#cr" fill="#c38d58"/><text class="a" y="-5">p1 (10)</text><text class="a" y="11">YB</text></g>
<g transform="translate(1962,117) rotate(-90)"><use href="#cr" fill="url(#YB)"/><text class="a" y="-5">p1 (99)</text><text class="a" y="11">YB:B</text></g>
</g>

<!-- box source circles -->
<g stroke="#333" stroke-width=".7">
<circle cx="183" cy="555" r="2.2" fill="#3030e0"/>
<circle cx="347" cy="328" r="2.2" fill="#e0207a"/>
<circle cx="429" cy="101" r="2.2" fill="#8080f0"/>
<circle cx="511" cy="101" r="2.2" fill="#33dd33"/>
<circle cx="511" cy="177" r="2.2" fill="#33dd33"/>
<circle cx="511" cy="403" r="2.2" fill="#33dd33"/>
<circle cx="593" cy="328" r="2.2" fill="#3377ff"/>
<circle cx="757" cy="101" r="2.2" fill="#e0b000"/>
<circle cx="757" cy="252" r="2.2" fill="#e0b000"/>
<circle cx="757" cy="479" r="2.2" fill="#e0b000"/>
<circle cx="757" cy="555" r="2.2" fill="#e0b000"/>
<circle cx="757" cy="706" r="2.2" fill="#e0b000"/>
<circle cx="921" cy="555" r="2.2" fill="#2a8a60"/>
<circle cx="921" cy="630" r="2.2" fill="#2a8a60"/>
<circle cx="1084" cy="101" r="2.2" fill="#20b8c8"/>
<circle cx="1084" cy="177" r="2.2" fill="#20b8c8"/>
<circle cx="1084" cy="252" r="2.2" fill="#20b8c8"/>
<circle cx="1084" cy="328" r="2.2" fill="#20b8c8"/>
<circle cx="1084" cy="479" r="2.2" fill="#20b8c8"/>
<circle cx="1412" cy="101" r="2.2" fill="#8080f0"/>
<circle cx="1494" cy="403" r="2.2" fill="#33dd33"/>
<circle cx="1576" cy="101" r="2.2" fill="#3377ff"/>
</g>

<!-- tags -->
<g>
<rect class="tg" x="852" y="98" width="30" height="8" fill="#4a86e8"/><text class="t" x="867" y="104.5">←p42</text><circle cx="850" cy="102" r="2" fill="#3377ff" stroke="#333" stroke-width=".6"/>
<rect class="tg" x="852" y="174" width="30" height="8" fill="#70e070"/><text class="tk" x="867" y="180.5">←p38</text><circle cx="850" cy="178" r="2" fill="#33dd33" stroke="#333" stroke-width=".6"/>
<rect class="tg" x="852" y="249" width="30" height="8" fill="#70e070"/><text class="tk" x="867" y="255.5">←p35</text><circle cx="850" cy="253" r="2" fill="#33dd33" stroke="#333" stroke-width=".6"/>
<rect class="tg" x="852" y="257.5" width="30" height="8" fill="#e8c030"/><text class="tk" x="867" y="264">←p48</text><circle cx="850" cy="261.5" r="2" fill="#e0b000" stroke="#333" stroke-width=".6"/>
<rect class="tg" x="852" y="325" width="30" height="8" fill="#9090f0"/><text class="t" x="867" y="331.5">←p28</text><circle cx="850" cy="329" r="2" fill="#8080f0" stroke="#333" stroke-width=".6"/>
<rect class="tg" x="688" y="627" width="30" height="8" fill="#e8c030"/><text class="tk" x="703" y="633.5">←p46</text><circle cx="686" cy="631" r="2" fill="#e0b000" stroke="#333" stroke-width=".6"/>
<rect class="tg" x="1015" y="476" width="30" height="8" fill="#e8c030"/><text class="tk" x="1030" y="482.5">←p51</text><circle cx="1013" cy="480" r="2" fill="#e0b000" stroke="#333" stroke-width=".6"/>
<rect class="tg" x="1179" y="98" width="30" height="8" fill="#6050d0"/><text class="t" x="1194" y="104.5">←p14</text><circle cx="1177" cy="102" r="2" fill="#3030e0" stroke="#333" stroke-width=".6"/>
<rect class="tg" x="1179" y="106.5" width="30" height="8" fill="#4a8a6a"/><text class="t" x="1194" y="113">←p62</text><circle cx="1177" cy="110.5" r="2" fill="#2a8a60" stroke="#333" stroke-width=".6"/>
<rect class="tg" x="1261" y="174" width="30" height="8" fill="#50c0c8"/><text class="t" x="1276" y="180.5">←p72</text><circle cx="1259" cy="178" r="2" fill="#20b8c8" stroke="#333" stroke-width=".6"/>
<rect class="tg" x="1261" y="249" width="30" height="8" fill="#e040a0"/><text class="t" x="1276" y="255.5">←p24</text><circle cx="1259" cy="253" r="2" fill="#e0207a" stroke="#333" stroke-width=".6"/>
<rect class="tg" x="1261" y="257.5" width="30" height="8" fill="#70e070"/><text class="tk" x="1276" y="264">←p34</text><circle cx="1259" cy="261.5" r="2" fill="#33dd33" stroke="#333" stroke-width=".6"/>
<rect class="tg" x="1425" y="98" width="30" height="8" fill="#e8c030"/><text class="tk" x="1440" y="104.5">←p54</text><circle cx="1423" cy="102" r="2" fill="#e0b000" stroke="#333" stroke-width=".6"/>
<rect class="tg" x="1425" y="325" width="30" height="8" fill="#4a8a6a"/><text class="t" x="1440" y="331.5">←p63</text><circle cx="1423" cy="329" r="2" fill="#2a8a60" stroke="#333" stroke-width=".6"/>
<rect class="tg" x="1589" y="174" width="30" height="8" fill="#4a86e8"/><text class="t" x="1604" y="180.5">←p90</text><circle cx="1587" cy="178" r="2" fill="#3377ff" stroke="#333" stroke-width=".6"/>
<rect class="tg" x="1589" y="400" width="30" height="8" fill="#50c0c8"/><text class="t" x="1604" y="406.5">←p70</text><circle cx="1587" cy="404" r="2" fill="#20b8c8" stroke="#333" stroke-width=".6"/>
<rect class="tg" x="1589" y="476" width="30" height="8" fill="#50c0c8"/><text class="t" x="1604" y="482.5">←p68</text><circle cx="1587" cy="480" r="2" fill="#20b8c8" stroke="#333" stroke-width=".6"/>
<rect class="tg" x="1589" y="552" width="30" height="8" fill="#9090f0"/><text class="t" x="1604" y="558.5">←p81</text><circle cx="1587" cy="556" r="2" fill="#8080f0" stroke="#333" stroke-width=".6"/>
<rect class="tg" x="1589" y="778" width="30" height="8" fill="#e8c030"/><text class="tk" x="1604" y="784.5">←p52</text><circle cx="1587" cy="782" r="2" fill="#e0b000" stroke="#333" stroke-width=".6"/>
<rect class="tg" x="1589" y="786.5" width="30" height="8" fill="#70e070"/><text class="tk" x="1604" y="793">←p86</text><circle cx="1587" cy="790.5" r="2" fill="#33dd33" stroke="#333" stroke-width=".6"/>
<rect class="tg" x="1589" y="854" width="30" height="8" fill="#50c0c8"/><text class="t" x="1604" y="860.5">←p67</text><circle cx="1587" cy="858" r="2" fill="#20b8c8" stroke="#333" stroke-width=".6"/>
<rect class="tg" x="1589" y="1081" width="30" height="8" fill="#50c0c8"/><text class="t" x="1604" y="1087.5">←p69</text><circle cx="1587" cy="1085" r="2" fill="#20b8c8" stroke="#333" stroke-width=".6"/>
</g>
</svg>
</body></html>
